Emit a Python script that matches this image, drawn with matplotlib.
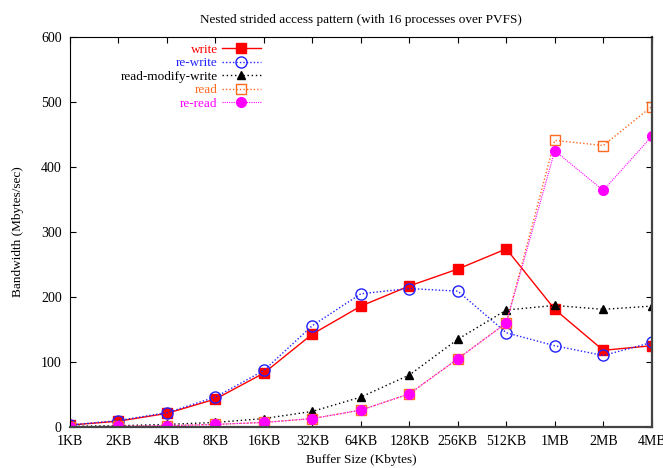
import matplotlib
matplotlib.use("Agg")
import matplotlib.pyplot as plt

plt.rcParams['font.family'] = ['Liberation Serif', 'DejaVu Serif']

sizes = ["1KB", "2KB", "4KB", "8KB", "16KB", "32KB", "64KB", "128KB",
         "256KB", "512KB", "1MB", "2MB", "4MB"]

write = [3, 9, 21, 43, 83, 143, 186, 217, 243, 274, 181, 118, 125]
rewrite = [3, 10, 22, 46, 87, 156, 205, 213, 209, 145, 125, 110, 130]
rmw = [1, 2, 4, 7, 13, 24, 46, 80, 135, 180, 187, 181, 186]
read = [0, 1, 2, 4, 7, 13, 26, 51, 105, 160, 441, 433, 493]
reread = [0, 1, 2, 4, 7, 13, 26, 51, 105, 160, 425, 364, 447]

fig = plt.figure(figsize=(6.63, 4.68), dpi=100)
ax = fig.add_axes([0.1056, 0.0876, 0.8774, 0.8334])

ax.plot(sizes, write, color='#ff0000', lw=1.0, ls='-', marker='s', ms=6.5,
        label='write')
ax.plot(sizes, rewrite, color='#2222ff', lw=1.0, ls=(0, (1, 1.5)), marker='o', ms=8,
        mfc='none', mew=1.0, label='re-write')
ax.plot(sizes, rmw, color='black', lw=1.0, ls=(0, (1, 2)), marker='^', ms=6,
        label='read-modify-write')
ax.plot(sizes, read, color='#ff6a20', lw=1.0, ls=(0, (1, 1.5)), marker='s', ms=7.5,
        mfc='none', mew=1.0, label='read')
ax.plot(sizes, reread, color='#ff00ff', lw=0.8, ls=(0, (1, 1)), marker='o', ms=7,
        label='re-read')

ax.set_xlim(0, 12)
ax.set_ylim(0, 600)
ax.set_yticks([0, 100, 200, 300, 400, 500, 600])
ax.tick_params(direction='in', top=True, right=True, labelsize=10, length=4, pad=6)

for s in ['bottom', 'right']:
    ax.spines[s].set_linewidth(1.6)
    ax.spines[s].set_color('#444444')

ax.set_title('Nested strided access pattern (with 16 processes over PVFS)',
             fontsize=9.5, pad=10)
ax.set_xlabel('Buffer Size (Kbytes)', fontsize=9.5, labelpad=4)
ax.set_ylabel('Bandwidth (Mbytes/sec)', fontsize=9.5, labelpad=12)

leg = ax.legend(loc='upper right', bbox_to_anchor=(0.34, 1.0), markerfirst=False,
                frameon=False, fontsize=9.5, labelspacing=0.1, handlelength=3,
                handletextpad=0.3, borderaxespad=0.1, labelcolor='linecolor')

fig.savefig('out.png', dpi=100)
